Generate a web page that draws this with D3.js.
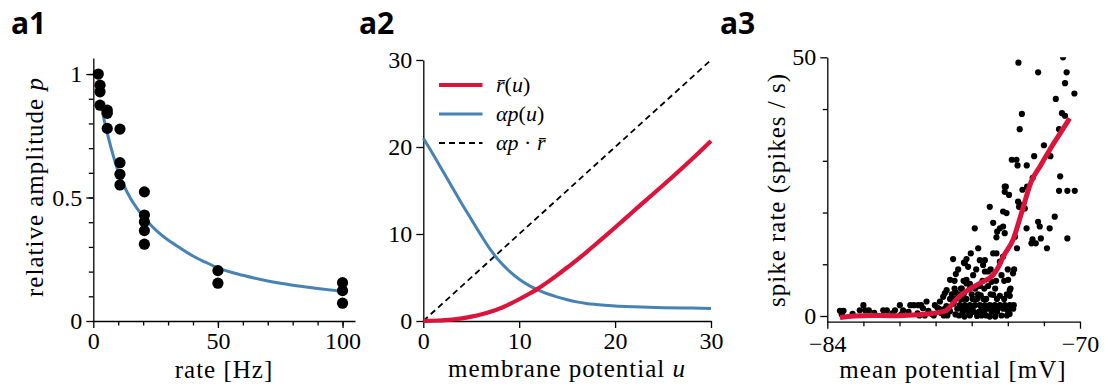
<!DOCTYPE html>
<html>
<head>
<meta charset="utf-8">
<script src="https://cdn.jsdelivr.net/npm/d3@7"></script>
<style>
  body { margin: 0; background: #fff; }
  svg text { font-family: "Liberation Serif", serif; fill: #000; }
  .title { font-family: "Open Sans", sans-serif; font-weight: 700; font-size: 30px; }
  .axis text { font-size: 24px; font-family: "Liberation Serif", serif; }
  .axis path, .axis line { stroke: #000; stroke-width: 1.3; }
  .label { font-size: 25px; letter-spacing: 1px; }
  .legend { font-size: 22px; }
</style>
</head>
<body>
<svg id="chart" width="1112" height="387"></svg>
<script>
// ---- a1: relative amplitude vs rate
const a1Rate = [2, 2.7, 2.7, 2.7, 5.6, 5.6, 5.6, 10.7, 10.7, 10.7, 10.7,
  20.5, 20.5, 20.5, 20.5, 20.5, 50, 50, 100, 100, 100];
const a1Amp = [1.0, 0.955, 0.928, 0.874, 0.854, 0.841, 0.78, 0.777, 0.641, 0.594, 0.551,
  0.523, 0.429, 0.402, 0.366, 0.311, 0.204, 0.153, 0.155, 0.123, 0.072];
const a1FitRate = [3, 4, 6, 8, 10, 12, 15, 18, 22, 26, 30, 35, 40, 45, 50, 60, 70, 80, 90, 100];
const a1FitAmp = [0.88, 0.83, 0.745, 0.67, 0.605, 0.555, 0.495, 0.45, 0.4, 0.36, 0.328, 0.295,
  0.263, 0.238, 0.215, 0.185, 0.162, 0.145, 0.132, 0.12];

// ---- a2: transfer functions vs membrane potential
const a2U = [0, 1, 2, 3, 4, 5, 6, 7, 8, 9, 10, 11, 12, 13, 14, 15, 16, 17, 18, 20, 22, 25, 28, 30];
const a2Rbar = [0, 0.03, 0.08, 0.15, 0.3, 0.5, 0.75, 1.05, 1.45, 1.95, 2.5, 3.1, 3.75, 4.5, 5.3,
  6.15, 7.0, 7.9, 8.85, 10.75, 12.7, 15.6, 18.6, 20.7];
const a2AlphaP = [21.0, 19.2, 17.3, 15.4, 13.5, 11.7, 9.9, 8.2, 6.8, 5.7, 4.8, 4.1, 3.55, 3.1, 2.75,
  2.45, 2.2, 2.02, 1.9, 1.73, 1.63, 1.53, 1.48, 1.45];
const a2Ident = [0, 30];
const a2Legend = ["rbar", "alphap", "product"];

// ---- a3: spike rate vs mean potential
const a3Mv = [-70.94, -73.41, -72.32, -70.74, -70.83, -70.31, -71.34, -73.22, -71.0, -70.83,
  -73.34, -71.16, -72.0, -71.64, -72.54, -73.78, -73.52, -73.46, -72.95, -71.1,
  -72.62, -74.11, -72.93, -71.16, -70.7, -70.29,
  -74.17, -74.17, -73.93, -73.19, -73.43, -73.24, -73.38, -75.0, -73.06, -74.26,
  -74.07, -71.4, -74.81, -72.32, -72.23, -75.83, -74.44, -74.26, -74.59, -74.17,
  -72.96, -71.68, -74.63, -73.6, -72.63, -72.69, -72.45, -72.17, -70.7, -73.49,
  -71.83, -75.64, -76.05, -76.29, -76.43, -75.55, -75.27, -75.37, -74.81, -74.63,
  -74.26, -74.44, -75.92, -76.2, -75.27, -75.09, -74.35, -73.71, -73.98, -76.29,
  -76.1, -75.55, -75.09, -74.9, -73.89, -73.89, -74.81, -74.44,
  -76.66, -76.38, -76.1, -75.83, -75.55, -75.27, -75.0, -74.72, -74.44, -74.17, -73.89, -73.67,
  -76.5, -76.2, -75.9, -75.6, -75.3, -74.9, -74.6, -75.0,
  -83.3, -83.1, -83.2, -82.0, -82.2, -81.9, -81.7, -80.9, -80.7, -80.25, -79.98, -79.8,
  -79.4, -79.2, -78.96, -78.5, -78.8, -78.7, -78.04, -77.76, -77.58, -77.49,
  -77.03, -76.88, -76.38, -76.29, -77.39, -77.2,
  -79.5, -79.0, -78.4, -78.2, -77.9, -77.7, -77.4, -77.2, -77.0, -76.9, -76.8, -76.6,
  -76.9, -76.6, -75.8, -75.5, -75.2, -74.0, -73.9, -76.4, -75.7, -74.7, -82.6, -81.4, -80.4, -79.9,
  -77.2, -76.95, -76.5, -76.3, -75.95, -75.7, -75.35, -74.6, -74.2,
  -77.1, -76.75, -76.45, -76.0, -75.65, -74.95, -74.05,
  -76.95, -76.55, -76.1, -75.8, -75.3, -74.7, -73.85,
  -77.8, -77.5, -77.25, -76.55, -76.25, -75.95, -75.45, -75.15, -74.85, -74.55, -74.25, -73.95, -73.7,
  -78.9, -78.6, -78.1, -77.55, -77.35, -76.7, -76.1, -75.45, -75.2, -74.35, -74.05,
  -76.95, -76.45, -75.4, -74.65, -74.2,
  -76.75, -75.75, -74.95, -74.0, -73.65];
const a3Rate = [50.0, 48.97, 47.1, 47.1, 45.0, 43.0, 41.95, 39.05, 39.2, 38.7,
  36.1, 36.1, 33.0, 30.9, 30.9, 30.2, 30.2, 29.1, 29.1, 27.0,
  26.7, 25.0, 25.0, 24.2, 24.2, 24.2,
  25.0, 24.0, 23.4, 24.4, 22.1, 21.5, 21.1, 21.1, 20.8, 20.2,
  19.9, 19.2, 18.0, 18.2, 17.3, 16.95, 16.95, 17.3, 16.3, 16.0,
  16.95, 16.95, 15.2, 15.3, 14.8, 14.05, 14.05, 15.0, 15.0, 13.1,
  13.1, 13.1, 12.1, 11.0, 10.3, 10.8, 10.8, 9.86, 12.1, 12.1,
  11.5, 10.5, 7.9, 9.5, 8.6, 8.6, 7.9, 8.25, 7.0, 7.0,
  6.2, 5.8, 5.8, 6.6, 5.0, 3.9, 4.1, 3.9,
  2.1, 2.1, 2.1, 2.1, 2.1, 2.1, 2.1, 2.1, 2.1, 2.1, 2.1, 2.1,
  0.8, 0.8, 0.8, 0.8, 0.8, 0.8, 0.8, -0.1,
  1.0, 1.0, 0.3, 2.1, 1.1, 1.1, 1.1, 1.1, 1.1, 1.1, 2.1, 1.1,
  2.1, 2.1, 2.1, 2.8, 2.1, 1.5, 2.1, 2.8, 3.7, 4.4,
  11.0, 8.1, 10.2, 6.3, 5.0, 7.0,
  0.8, 0.5, 1.0, 0.4, 1.6, 0.6, 1.9, 0.9, 2.4, 0.3, 1.4, 3.2,
  4.6, 5.3, 3.2, 4.0, 3.3, 1.0, 0.4, -0.1, 0.0, -0.1, 0.4, 0.6, 0.5, 0.3,
  3.3, 3.3, 3.3, 3.3, 3.3, 3.3, 3.3, 3.3, 3.3,
  4.2, 4.2, 4.2, 4.2, 4.2, 4.2, 4.2,
  5.3, 5.3, 5.3, 5.3, 5.3, 5.3, 5.3,
  1.4, 1.4, 1.4, 1.4, 1.4, 1.4, 1.4, 1.4, 1.4, 1.4, 1.4, 1.4, 1.4,
  0.1, 0.1, 0.1, 0.1, 0.1, 0.1, 0.1, 0.1, 0.1, 0.1, 0.1,
  6.8, 6.8, 6.8, 6.8, 6.8,
  9.0, 9.0, 9.0, 9.0, 9.0];
const a3FitMv = [-83.3, -82.5, -81.5, -80.5, -79.5, -78.5, -77.8, -77.4, -77.1, -76.85, -76.6,
  -76.3, -75.55, -74.8, -74.5, -74.25, -73.7, -73.25, -72.7, -72.2, -71.7, -71.1, -70.57];
const a3FitRate = [-0.3, 0, 0.1, 0.05, 0.15, 0.4, 0.7, 1.1, 2.2, 3.2, 4.0,
  4.8, 6.3, 8.0, 9.6, 11.5, 14.8, 19.8, 26.0, 29.0, 32.0, 35.3, 38.2];

const red = "#dc143c";
const blue = "#4682b4";

const svg = d3.select("#chart");

function drawAxes(x, y, o) {
  const b = y.range()[0];
  const l = x.range()[0];
  // minor ticks first
  if (o.xMinor) {
    svg.append("g").attr("class", "axis").attr("transform", `translate(0,${b})`)
      .call(d3.axisBottom(x).tickValues(o.xMinor).tickSize(4.5).tickFormat("").tickSizeOuter(0))
      .select(".domain").remove();
  }
  if (o.yMinor) {
    svg.append("g").attr("class", "axis").attr("transform", `translate(${l},0)`)
      .call(d3.axisLeft(y).tickValues(o.yMinor).tickSize(4.5).tickFormat("").tickSizeOuter(0))
      .select(".domain").remove();
  }
  svg.append("g").attr("class", "axis").attr("transform", `translate(0,${b})`)
    .call(d3.axisBottom(x).tickValues(o.xTicks).tickSize(7).tickPadding(o.xPad || 4)
      .tickFormat(o.xFmt || d3.format("~g")).tickSizeOuter(0));
  svg.append("g").attr("class", "axis").attr("transform", `translate(${l},0)`)
    .call(d3.axisLeft(y).tickValues(o.yTicks).tickSize(7).tickPadding(4)
      .tickFormat(o.yFmt || d3.format("~g")).tickSizeOuter(0));
  svg.selectAll(".axis").attr("font-family", null);
}

function title(txt, xPos) {
  svg.append("text").attr("class", "title").attr("x", xPos).attr("y", 34).text(txt);
}

// ================= a1 =================
const x1 = d3.scaleLinear([0, 105], [93.3, 355]);
const y1 = d3.scaleLinear([0, 1.065], [321, 58]);
drawAxes(x1, y1, {
  xTicks: [0, 50, 100], xMinor: d3.range(10, 101, 10),
  yTicks: [0, 0.5, 1], yMinor: d3.range(0.1, 1.01, 0.1)
});
svg.append("path")
  .datum(d3.zip(a1FitRate, a1FitAmp))
  .attr("fill", "none").attr("stroke", blue).attr("stroke-width", 3)
  .attr("d", d3.line().x(d => x1(d[0])).y(d => y1(d[1])).curve(d3.curveMonotoneX));
svg.append("g").selectAll("circle")
  .data(d3.zip(a1Rate, a1Amp))
  .join("circle")
  .attr("cx", d => x1(d[0])).attr("cy", d => y1(d[1])).attr("r", 5.6).attr("fill", "#000");
title("a1", 11);
svg.append("text").attr("class", "label").attr("x", 224).attr("y", 378)
  .attr("text-anchor", "middle").text("rate [Hz]");
const yl1 = svg.append("text").attr("class", "label").attr("text-anchor", "middle")
  .attr("transform", "translate(43,187) rotate(-90)");
yl1.append("tspan").text("relative amplitude ");
yl1.append("tspan").attr("font-style", "italic").text("p");

// ================= a2 =================
const x2 = d3.scaleLinear([0, 30], [423.3, 711]);
const y2 = d3.scaleLinear([0, 30], [321, 60]);
drawAxes(x2, y2, { xTicks: [0, 10, 20, 30], yTicks: [0, 10, 20, 30] });
const line2 = d3.line().x(d => x2(d[0])).y(d => y2(d[1])).curve(d3.curveMonotoneX);
svg.append("path").datum(d3.zip(a2Ident, a2Ident))
  .attr("fill", "none").attr("stroke", "#000").attr("stroke-width", 1.8)
  .attr("stroke-dasharray", "6,4").attr("d", line2);
svg.append("path").datum(d3.zip(a2U, a2AlphaP))
  .attr("fill", "none").attr("stroke", blue).attr("stroke-width", 3).attr("d", line2);
svg.append("path").datum(d3.zip(a2U, a2Rbar))
  .attr("fill", "none").attr("stroke", red).attr("stroke-width", 4.2).attr("d", line2);
title("a2", 359);
svg.append("text").attr("class", "label").attr("x", 567).attr("y", 377)
  .attr("text-anchor", "middle")
  .call(t => {
    t.append("tspan").text("membrane potential ");
    t.append("tspan").attr("font-style", "italic").text("u");
  });

// legend
const legStyle = {
  rbar: { color: red, w: 4.2, dash: null },
  alphap: { color: blue, w: 3, dash: null },
  product: { color: "#000", w: 1.8, dash: "6,4" }
};
const leg = svg.append("g").selectAll("g").data(a2Legend).join("g")
  .attr("transform", (d, i) => `translate(439,${85 + i * 29})`);
leg.append("line").attr("x1", 0).attr("x2", 43.5)
  .attr("stroke", d => legStyle[d].color).attr("stroke-width", d => legStyle[d].w)
  .attr("stroke-dasharray", d => legStyle[d].dash);
leg.append("text").attr("class", "legend").attr("x", 57).attr("dy", "0.33em")
  .each(function (d) {
    const t = d3.select(this);
    const it = s => t.append("tspan").attr("font-style", "italic").text(s);
    const up = s => t.append("tspan").text(s);
    if (d === "rbar") { it("r\u0304"); up("("); it("u"); up(")"); }
    else if (d === "alphap") { it("\u03b1p"); up("("); it("u"); up(")"); }
    else { it("\u03b1p"); up(" \u00b7 "); it("r\u0304"); }
  });

// ================= a3 =================
const x3 = d3.scaleLinear([-84, -70], [827.3, 1080]);
const y3 = d3.scaleLinear([-1.1, 50], [321.7, 57.3]);
drawAxes(x3, y3, {
  xTicks: [-84, -70], xMinor: d3.range(-82, -71, 2), xPad: 6,
  yTicks: [0, 50], yMinor: [10, 20, 30, 40]
});
svg.append("clipPath").attr("id", "clip3").append("rect")
  .attr("x", 827.3).attr("y", 57.3).attr("width", 252.7).attr("height", 264.4);
const g3 = svg.append("g").attr("clip-path", "url(#clip3)");
g3.selectAll("circle").data(d3.zip(a3Mv, a3Rate)).join("circle")
  .attr("cx", d => x3(d[0])).attr("cy", d => y3(d[1])).attr("r", 3.1).attr("fill", "#000");
g3.append("path").datum(d3.zip(a3FitMv, a3FitRate))
  .attr("fill", "none").attr("stroke", red).attr("stroke-width", 5)
  .attr("stroke-linejoin", "round")
  .attr("d", d3.line().x(d => x3(d[0])).y(d => y3(d[1])).curve(d3.curveMonotoneX));
title("a3", 720);
svg.append("text").attr("class", "label").attr("x", 953).attr("y", 378)
  .attr("text-anchor", "middle").text("mean potential [mV]");
svg.append("text").attr("class", "label").attr("text-anchor", "middle")
  .attr("transform", "translate(785,190) rotate(-90)").text("spike rate (spikes / s)");
</script>
</body>
</html>
